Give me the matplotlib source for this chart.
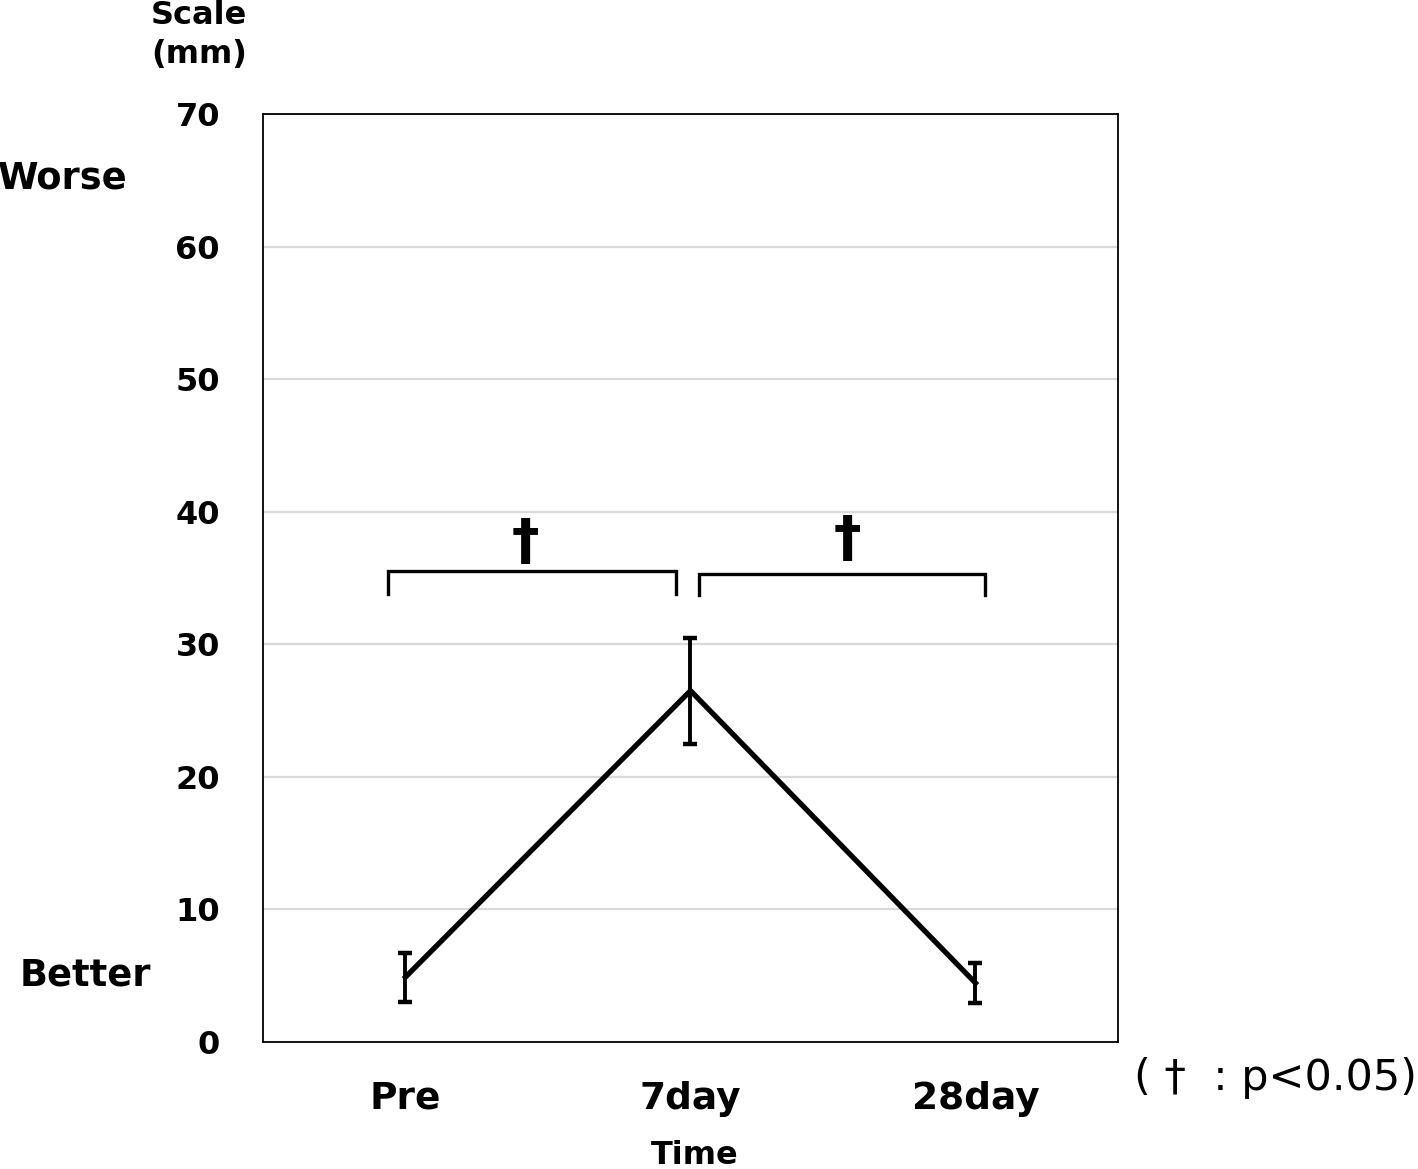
import matplotlib
matplotlib.use("Agg")
import matplotlib.pyplot as plt

categories = ["Pre", "7day", "28day"]
means = [4.9, 26.5, 4.45]
errors = [1.85, 4.0, 1.5]
yticks = [0, 10, 20, 30, 40, 50, 60, 70]

# significance brackets: (x_start, x_end, y_top, y_leg)
brackets = [(-0.06, 0.95, 35.5, 33.8), (1.03, 2.035, 35.3, 33.7)]
dagger_pos = [(0.42, 35.6), (1.55, 35.8)]

plt.rcParams['font.family'] = ['DejaVu Sans']
fig = plt.figure(figsize=(14.18, 11.69), dpi=100)
ax = fig.add_axes([263/1418, 1 - 1042/1169, (1118-263)/1418, (1042-114)/1169])

x = list(range(len(categories)))
ax.plot(x, means, color='black', lw=3.8, solid_joinstyle='miter', zorder=3)
ax.errorbar(x, means, yerr=errors, fmt='none', ecolor='black', elinewidth=2.8,
            capsize=5, capthick=3.2, zorder=4)

for xs, xe, yt, yl in brackets:
    ax.plot([xs, xs, xe, xe], [yl, yt, yt, yl], color='black', lw=2.4,
            solid_joinstyle='miter', zorder=3)
for dx, dy in dagger_pos:
    ax.text(dx, dy, "†", ha='center', va='bottom', fontsize=40, fontweight='semibold')

ax.set_xlim(-0.5, 2.5)
ax.set_ylim(0, 70)
ax.set_yticks(yticks)
ax.set_yticklabels([str(v) for v in yticks], fontsize=23, fontweight='bold')
ax.set_xticks(x)
ax.set_xticklabels(categories, fontsize=27, fontweight='bold')
ax.tick_params(axis='y', length=0, pad=31)
ax.tick_params(axis='x', length=0, pad=28)
ax.grid(axis='y', color='#d9d9d9', lw=1.6, zorder=0)
ax.set_axisbelow(True)
for s in ax.spines.values():
    s.set_linewidth(1.3)
    s.set_color('black')

fig.text(695/1418, 1 - 1155/1169, "Time", ha='center', va='center', fontsize=23, fontweight='bold')
fig.text(199/1418, 1 - 16/1169, "Scale", ha='center', va='center', fontsize=23, fontweight='bold')
fig.text(199/1418, 1 - 55/1169, "(mm)", ha='center', va='center', fontsize=23, fontweight='bold')
fig.text(63/1418, 1 - 178/1169, "Worse", ha='center', va='center', fontsize=26.5, fontweight='bold')
fig.text(85/1418, 1 - 975/1169, "Better", ha='center', va='center', fontsize=26.5, fontweight='bold')
fig.text(1417/1418, 1 - 1078/1169, "( †  : p<0.05)", ha='right', va='center', fontsize=31)

fig.savefig("out.png", dpi=100)
